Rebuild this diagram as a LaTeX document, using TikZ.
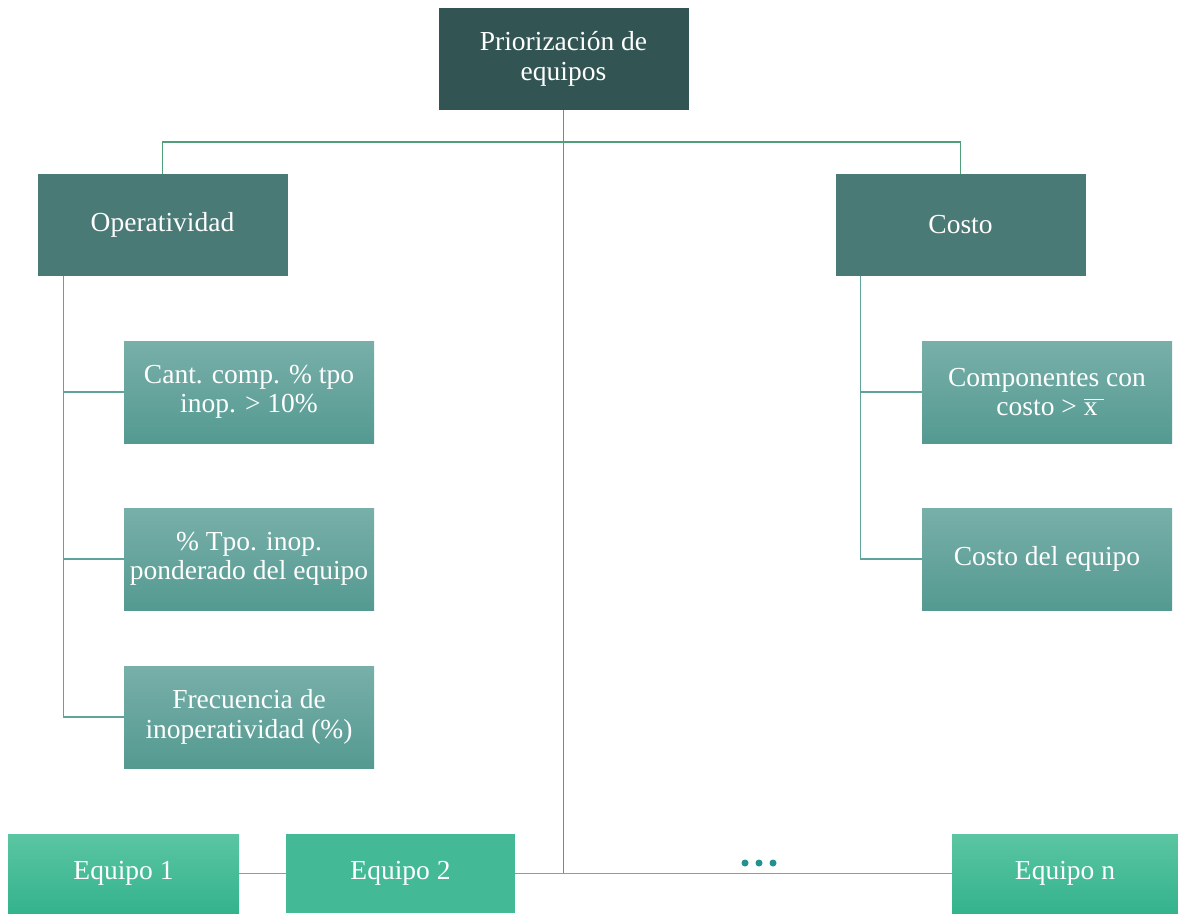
\documentclass[tikz,border=0pt]{standalone}
\usepackage{fontspec}
\setmainfont{Liberation Serif}
\usetikzlibrary{calc}
\definecolor{rootfill}{HTML}{325553}
\definecolor{midfill}{HTML}{4A7A76}
\definecolor{leaftop}{HTML}{78AFA9}
\definecolor{leafbot}{HTML}{549A91}
\definecolor{eqtop}{HTML}{5BC5A2}
\definecolor{eqbot}{HTML}{34B38C}
\definecolor{eqflat}{HTML}{44B995}
\definecolor{rootline}{HTML}{4FA078}
\definecolor{leafline}{HTML}{5FA39D}
\definecolor{eqline}{HTML}{4EBF9C}
\definecolor{dotcol}{HTML}{23918F}
% x with a bar over it (sample mean)
\newcommand{\xbarmean}{\rlap{\rule[0.56em]{0.72em}{0.055em}}x}
\begin{document}
\begin{tikzpicture}[x=1pt,y=-1pt,
  box/.style={draw=none,text=white,align=center,inner sep=0pt,
    minimum width=250pt,minimum height=102pt,
    font=\fontsize{27.5}{29.5}\selectfont},
  rootbox/.style={box,fill=rootfill},
  midbox/.style={box,fill=midfill},
  leafbox/.style={box,top color=leaftop,bottom color=leafbot},
  eqbox/.style={box,minimum height=79pt,top color=eqtop,bottom color=eqbot},
  eqbox2/.style={box,minimum height=79pt,fill=eqflat},
  rline/.style={draw=rootline,line width=1.5pt},
  lline/.style={draw=leafline,line width=1.5pt},
  eline/.style={draw=eqline,line width=1.5pt}]
\useasboundingbox (0,0) rectangle (1178,913);

% hierarchy boxes
\node[rootbox] (root) at (563.5,59) {Priorización de\\equipos};
\node[midbox] (oper) at (162.5,225) {Operatividad};
\node[midbox] (costo) at (960.5,225) {Costo};
\node[leafbox] (c1) at (249,392) {Cant. comp. \% tpo\\inop. > 10\%};
\node[leafbox] (c2) at (249,559) {\% Tpo. inop.\\ponderado del equipo};
\node[leafbox] (c3) at (249,717) {Frecuencia de\\inoperatividad (\%)};
\node[leafbox] (r1) at (1047,392) {Componentes con\\costo > \xbarmean};
\node[leafbox] (r2) at (1047,559) {Costo del equipo};

% equipment row
\node[eqbox,minimum width=231pt] (e1) at (123.5,873.5) {Equipo 1};
\node[eqbox2,minimum width=229pt] (e2) at (400.5,873.5) {Equipo 2};
\node[eqbox,minimum width=226pt] (en) at (1065,873.5) {Equipo n};

% root to the two criteria
\draw[rline] (root.south) -- ++(0,32) coordinate (split) -| (oper.north);
\draw[rline] (split) -| (costo.north);

% trunks to the sub-criteria
\coordinate (tl) at ($(oper.south west)+(26,0)$);
\coordinate (tr) at ($(costo.south west)+(25,0)$);
\draw[lline] (tl) |- (c1.west);
\draw[lline] (tl) |- (c2.west);
\draw[lline] (tl) |- (c3.west);
\draw[lline] (tr) |- (r1.west);
\draw[lline] (tr) |- (r2.west);

% root down to the equipment row
\draw[rline] (split) -- (split |- e2.east);
\draw[eline] (split |- e2.east) -- (e2.east);
\draw[eline] (split |- en.west) -- (en.west);
\draw[eline] (e1.east) -- (e2.west);

% ellipsis dots
\foreach \dx in {745,759,773}
  \fill[dotcol] (\dx,863) circle (3.5pt);
\end{tikzpicture}
\end{document}
